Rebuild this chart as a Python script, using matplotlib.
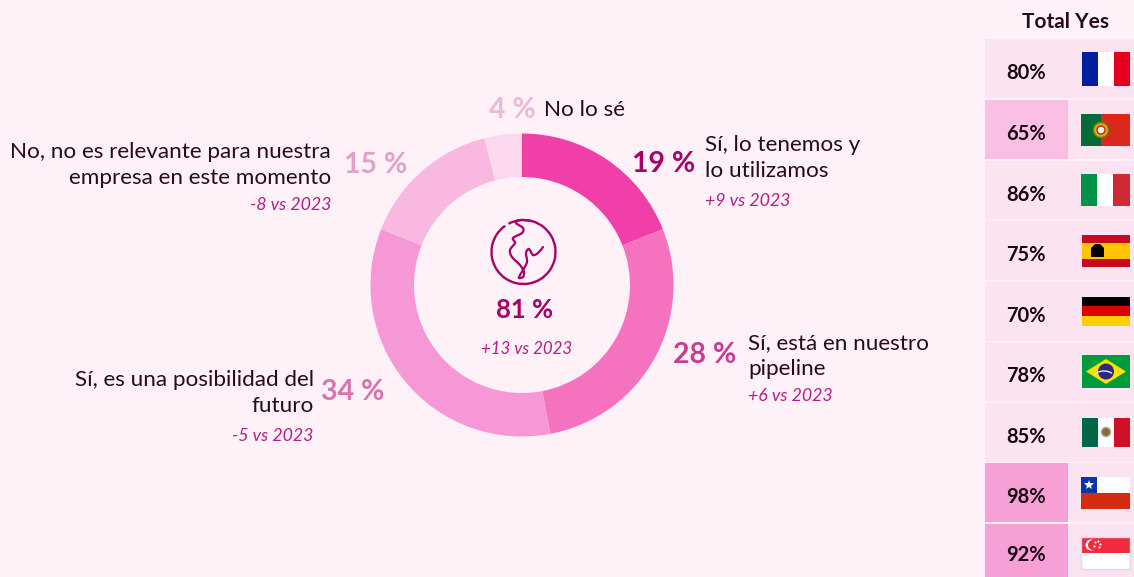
import matplotlib
matplotlib.use('Agg')
import matplotlib.pyplot as plt
from matplotlib.patches import Rectangle, Circle, Polygon, Arc, PathPatch
from matplotlib.path import Path

plt.rcParams['font.family'] = ['Lato', 'DejaVu Sans']

BG = '#FEF1F8'
DARK = '#2B0A1C'
MAGENTA = '#A80068'
ITALIC = '#B81C85'

# donut
shares = [19, 28, 34, 15, 4]
wedge_colors = ['#F03FA9', '#F472BE', '#F598D5', '#F8B8DF', '#FBD8EE']
share_colors = ['#A80068', '#C53E91', '#D873AE', '#E0A0C8', '#EBBAD9']
share_labels = ['19 %', '28 %', '34 %', '15 %', '4 %']
answers = ['Sí, lo tenemos y\nlo utilizamos', 'Sí, está en nuestro\npipeline',
           'Sí, es una posibilidad del\nfuturo',
           'No, no es relevante para nuestra\nempresa en este momento', 'No lo sé']
deltas = ['+9 vs 2023', '+6 vs 2023', '-5 vs 2023', '-8 vs 2023', '']

# table
totals = ['80%', '65%', '86%', '75%', '70%', '78%', '85%', '98%', '92%']
row_colors = ['#FBE3F1', '#F9C0E3', '#FBE3F1', '#FBE3F1', '#FBE3F1', '#FBE3F1',
              '#FBE3F1', '#F6A0D6', '#F6A0D6']

fig = plt.figure(figsize=(11.34, 5.77), dpi=100, facecolor=BG)
ax = fig.add_axes([0, 0, 1, 1])
ax.pie(shares, colors=wedge_colors, startangle=-90, counterclock=True,
       center=(522, 285), radius=151.5, frame=True,
       wedgeprops={'width': 43.5, 'linewidth': 0})
ax.set_xlim(0, 1134)
ax.set_ylim(577, 0)
ax.set_aspect('auto')
ax.axis('off')

# label placement, pixels
share_pos = [(664, 164), (705, 355), (353, 392), (376, 165), (512, 110)]
answer_pos = [(705, 158, 'left'), (748, 356, 'left'), (314, 393, 'right'),
              (331, 165, 'right'), (544, 110, 'left')]
delta_pos = [(705, 201, 'left'), (748, 396, 'left'), (313, 436, 'right'),
             (331, 205, 'right')]

for i in range(len(shares)):
    ax.text(share_pos[i][0], share_pos[i][1], share_labels[i], color=share_colors[i],
            fontsize=20.5, fontweight='bold', ha='center', va='center')
    x, y, ha = answer_pos[i]
    ax.text(x, y, answers[i], color=DARK, fontsize=16.2, ha=ha, va='center',
            linespacing=1.37, multialignment=ha)
    if deltas[i]:
        x, y, ha = delta_pos[i]
        ax.text(x, y, deltas[i], color=ITALIC, fontsize=12.8, style='italic', ha=ha, va='center')

# centre of donut
ax.text(525, 310, '81 %', color=MAGENTA, fontsize=18.5, fontweight='bold', ha='center', va='center')
ax.text(527, 349, '+13 vs 2023', color=ITALIC, fontsize=12.2, style='italic', ha='center', va='center')

# globe icon
ax.add_patch(Arc((523.5, 252), 64, 64, theta1=-118, theta2=235, color=MAGENTA, lw=1.7))
river = [(543, 247), (538, 253), (533, 255), (529, 249), (526, 253), (527, 262), (523, 270),
         (520, 275), (519, 278), (523, 277), (524, 272), (520, 265), (512, 257), (510, 250),
         (515, 243), (513, 238), (522, 233), (523, 228), (516, 223), (520, 220), (532, 221)]
verts = [river[0]]
codes = [Path.MOVETO]
for i in range(len(river) - 1):
    p0 = river[max(i - 1, 0)]
    p1 = river[i]
    p2 = river[i + 1]
    p3 = river[min(i + 2, len(river) - 1)]
    verts += [(p1[0] + (p2[0] - p0[0]) / 6, p1[1] + (p2[1] - p0[1]) / 6),
              (p2[0] - (p3[0] - p1[0]) / 6, p2[1] - (p3[1] - p1[1]) / 6), p2]
    codes += [Path.CURVE4, Path.CURVE4, Path.CURVE4]
ax.add_patch(PathPatch(Path(verts, codes), fill=False, edgecolor=MAGENTA, lw=1.6, capstyle='round'))

# table
ax.text(1066, 22, 'Total Yes', color=DARK, fontsize=15, fontweight='bold', ha='center', va='center')
row_edges = [(39, 98), (100, 159), (161, 220), (221, 280), (282, 341), (342, 401),
             (403, 462), (463, 522), (524, 577)]
for i, (top, bottom) in enumerate(row_edges):
    ax.add_patch(Rectangle((985, top), 149, bottom - top, fc='#FBE3F1', ec='none'))
    ax.add_patch(Rectangle((985, top), 83, bottom - top, fc=row_colors[i], ec='none'))
    ax.text(1026, (top + bottom) / 2 + 4.5, totals[i], color='#17080F', fontsize=14.5,
            fontweight='bold', ha='center', va='center')


def rect(x, y, w, h, c):
    ax.add_patch(Rectangle((x, y), w, h, fc=c, ec='none'))


# France
rect(1082, 52, 16, 34, '#00209F')
rect(1098, 52, 16, 34, '#FFFFFF')
rect(1114, 52, 16, 34, '#E5001E')
# Portugal
rect(1081, 114, 20, 32, '#046A38')
rect(1101, 114, 29, 32, '#DA291C')
ax.add_patch(Circle((1101, 130), 7.5, fc='#D8B000', ec='#7A7A10', lw=1))
ax.add_patch(Circle((1101, 130), 4, fc='#F4F0F0', ec='#C0242C', lw=1))
# Italy
rect(1081, 174, 16, 32, '#009246')
rect(1097, 174, 16, 32, '#FFFFFF')
rect(1113, 174, 17, 32, '#CE2B37')
# Spain
rect(1082, 235, 48, 32, '#C60B1E')
rect(1082, 243, 48, 16, '#FFC400')
ax.add_patch(Polygon([(1091, 257), (1091, 248), (1095, 244), (1100, 244), (1104, 248), (1104, 257)],
                     fc='#000000', ec='none'))
# Germany
rect(1082, 297, 48, 9, '#000000')
rect(1082, 306, 48, 10, '#DD0000')
rect(1082, 316, 48, 10, '#FFCE00')
# Brazil
rect(1082, 355, 48, 33, '#009B3A')
ax.add_patch(Polygon([(1086, 371.5), (1106, 359), (1126, 371.5), (1106, 384)], fc='#FEDF00', ec='none'))
ax.add_patch(Circle((1106, 371.5), 8, fc='#2B2A80', ec='none'))
ax.add_patch(Arc((1104, 380), 24, 18, theta1=205, theta2=320, color='#E8E8E8', lw=1))
# Mexico
rect(1082, 418, 16, 29, '#006847')
rect(1098, 418, 16, 29, '#FFFFFF')
rect(1114, 418, 16, 29, '#CE1126')
ax.add_patch(Circle((1106, 432), 4.5, fc='#8C6A3F', ec='#9DB08A', lw=1))
# Chile
rect(1081, 477, 49, 16, '#FFFFFF')
rect(1081, 493, 49, 16, '#D52B10')
rect(1081, 477, 16, 16, '#0039A6')
ax.plot([1089], [485], marker='*', ms=7, color='#FFFFFF', mew=0)
# Singapore
rect(1081, 537, 49, 32, '#FFFFFF')
rect(1081, 537, 49, 16, '#EF2B3D')
ax.add_patch(Rectangle((1081, 537), 49, 32, fill=False, ec='#DDDDDD', lw=1))
ax.add_patch(Circle((1091, 545), 5.5, fc='#FFFFFF', ec='none'))
ax.add_patch(Circle((1093, 545), 5, fc='#EF2B3D', ec='none'))
ax.plot([1095, 1098, 1100, 1094, 1099], [542, 541, 544, 546, 547], ls='none', marker='o',
        ms=1.5, color='#FFFFFF', mew=0)

fig.savefig('out.png', dpi=100, facecolor=BG)
